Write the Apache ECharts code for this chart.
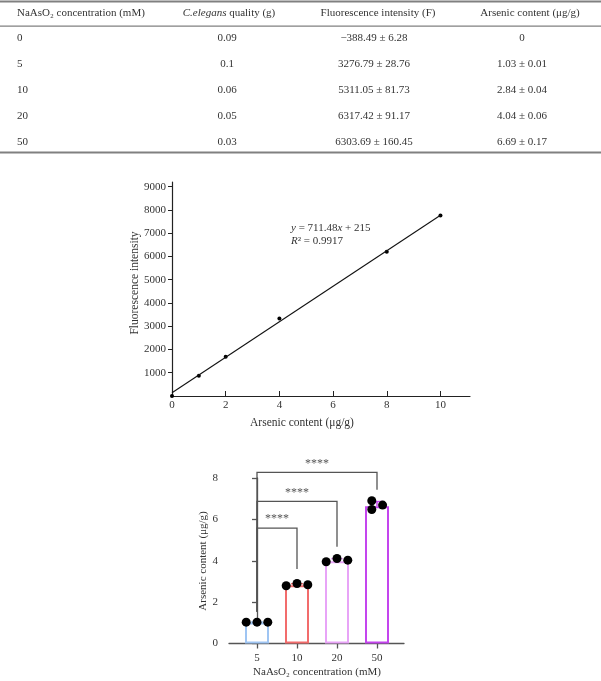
<!DOCTYPE html>
<html>
<head>
<meta charset="utf-8">
<script src="https://cdn.jsdelivr.net/npm/echarts@6/dist/echarts.min.js"></script>
<style>html,body{margin:0;padding:0;background:#fff}#c{width:601px;height:681px}</style>
</head>
<body>
<div id="c"></div>
<script>
// ---- Table data ----
const tableHeaders = ['NaAsO₂ concentration (mM)', '{i|C.elegans} quality (g)', 'Fluorescence intensity (F)', 'Arsenic content (μg/g)'];
const concentrations = ['0', '5', '10', '20', '50'];
const wormMass = ['0.09', '0.1', '0.06', '0.05', '0.03'];
const fluorescence = ['−388.49 ± 6.28', '3276.79 ± 28.76', '5311.05 ± 81.73', '6317.42 ± 91.17', '6303.69 ± 160.45'];
const arsenic = ['0', '1.03 ± 0.01', '2.84 ± 0.04', '4.04 ± 0.06', '6.69 ± 0.17'];

// ---- Standard curve data ----
const stdX = [0, 1, 2, 4, 8, 10];
const stdY = [0, 870, 1690, 3330, 6200, 7760];
const fitX = [0, 10];
const fitY = [140, 7770];
const stdXTicks = [0, 2, 4, 6, 8, 10];
const stdYTicks = [1000, 2000, 3000, 4000, 5000, 6000, 7000, 8000, 9000];
const equationText = '{i|y} = 711.48{i|x} + 215';
const r2Text = '{i|R}² = 0.9917';

// ---- Bar chart data ----
const groups = ['5', '10', '20', '50'];
const groupMeans = [1.02, 2.82, 3.98, 6.64];
const groupSD = [0.02, 0.07, 0.12, 0.22];
const replicates = [[1.03, 1.03, 1.03], [2.79, 2.90, 2.84], [3.95, 4.11, 4.03], [6.90, 6.48, 6.69]];
const dotOffsets = [[-0.27, 0, 0.27], [-0.27, 0, 0.27], [-0.27, 0, 0.27], [-0.13, -0.13, 0.14]];
const barColors = ['#9fc5f3', '#f26c6c', '#e8a4f7', '#c445ee'];
// comparisons: [groupA, groupB, bracketHeight, footA, footB]
const comparisons = [[0, 1, 5.58, 1.53, 3.60], [0, 2, 6.87, 1.53, 4.68], [0, 3, 8.27, 1.53, 7.43]];
const sigLabel = '****';

const FONT = 'Liberation Serif';
const TXT = '#333';

// ---- Table graphics ----
const g = [];
const colX = [17, 227, 374, 522];
const headX = [17, 229, 378, 530];
const rowY0 = 38, rowStep = 26;
g.push({type: 'rect', shape: {x: 0, y: 0.5, width: 601, height: 2}, style: {fill: '#808080'}});
g.push({type: 'rect', shape: {x: 0, y: 25.5, width: 601, height: 1.2}, style: {fill: '#808080'}});
g.push({type: 'rect', shape: {x: 0, y: 151.5, width: 601, height: 2}, style: {fill: '#808080'}});
tableHeaders.forEach((h, i) => {
  g.push({type: 'text', x: headX[i], y: 13, style: {text: h, fontFamily: FONT, fontSize: 11, fill: TXT,
    align: i === 0 ? 'left' : 'center', verticalAlign: 'middle',
    rich: {i: {fontStyle: 'italic', fontFamily: FONT, fontSize: 11, fill: TXT}}}});
});
const cols = [concentrations, wormMass, fluorescence, arsenic];
cols.forEach((col, c) => {
  col.forEach((v, r) => {
    g.push({type: 'text', x: colX[c], y: rowY0 + r * rowStep, style: {text: v, fontFamily: FONT, fontSize: 11, fill: TXT,
      align: c === 0 ? 'left' : 'center', verticalAlign: 'middle'}});
  });
});
// Axis titles and equation
g.push({type: 'text', x: 135, y: 283, rotation: Math.PI / 2, style: {text: 'Fluorescence intensity', fontFamily: FONT, fontSize: 11.5, fill: TXT, align: 'center', verticalAlign: 'middle'}});
g.push({type: 'text', x: 302, y: 423, style: {text: 'Arsenic content (μg/g)', fontFamily: FONT, fontSize: 11.5, fill: TXT, align: 'center', verticalAlign: 'middle'}});
g.push({type: 'text', x: 291, y: 228, style: {text: equationText, fontFamily: FONT, fontSize: 11, fill: TXT, align: 'left', verticalAlign: 'middle',
  rich: {i: {fontStyle: 'italic', fontFamily: FONT, fontSize: 11, fill: TXT}}}});
g.push({type: 'text', x: 291, y: 241.5, style: {text: r2Text, fontFamily: FONT, fontSize: 11, fill: TXT, align: 'left', verticalAlign: 'middle',
  rich: {i: {fontStyle: 'italic', fontFamily: FONT, fontSize: 11, fill: TXT}}}});
g.push({type: 'text', x: 203, y: 561, rotation: Math.PI / 2, style: {text: 'Arsenic content (μg/g)', fontFamily: FONT, fontSize: 11, fill: TXT, align: 'center', verticalAlign: 'middle'}});
g.push({type: 'text', x: 317, y: 672, style: {text: 'NaAsO₂ concentration (mM)', fontFamily: FONT, fontSize: 11, fill: TXT, align: 'center', verticalAlign: 'middle'}});

const chart = echarts.init(document.getElementById('c'), null, {renderer: 'canvas'});
const dotData = [];
replicates.forEach((reps, i) => reps.forEach((v, k) => dotData.push([i + dotOffsets[i][k], v])));

chart.setOption({
  animation: false,
  backgroundColor: '#fff',
  graphic: g,
  grid: [
    {left: 172, top: 182, width: 298, height: 214},
    {left: 229, top: 478, width: 175, height: 165.5}
  ],
  xAxis: [
    {type: 'value', gridIndex: 0, min: 0, max: 11.1,
      axisLine: {lineStyle: {color: '#222', width: 1.2}},
      axisTick: {inside: true, length: 5, lineStyle: {color: '#222'}, customValues: stdXTicks.filter(v => v > 0)},
      axisLabel: {customValues: stdXTicks, margin: 4, fontFamily: FONT, fontSize: 11, color: TXT, formatter: v => String(v)},
      splitLine: {show: false}},
    {type: 'value', gridIndex: 1, min: -0.7, max: 3.675,
      axisLine: {lineStyle: {color: '#555', width: 1.3}},
      axisTick: {length: 5, lineStyle: {color: '#555', width: 1.3}, customValues: [0, 1, 2, 3]},
      axisLabel: {customValues: [0, 1, 2, 3], margin: 9, fontFamily: FONT, fontSize: 11, color: TXT,
        formatter: v => groups[Math.round(v)]},
      splitLine: {show: false}}
  ],
  yAxis: [
    {type: 'value', gridIndex: 0, min: 0, max: 9200,
      axisLine: {show: true, lineStyle: {color: '#222', width: 1.2}},
      axisTick: {show: true, length: 4, lineStyle: {color: '#222'}, customValues: stdYTicks},
      axisLabel: {customValues: stdYTicks, margin: 6, fontFamily: FONT, fontSize: 11, color: TXT, formatter: v => String(v)},
      splitLine: {show: false}},
    {type: 'value', gridIndex: 1, min: 0, max: 8, interval: 2,
      axisLine: {show: true, lineStyle: {color: '#555', width: 1.3}},
      axisTick: {show: true, length: 5, lineStyle: {color: '#555', width: 1.3}},
      axisLabel: {margin: 11, fontFamily: FONT, fontSize: 11, color: TXT, formatter: v => String(v)},
      splitLine: {show: false}}
  ],
  series: [
    {type: 'line', xAxisIndex: 0, yAxisIndex: 0, data: fitX.map((x, i) => [x, fitY[i]]),
      symbol: 'none', lineStyle: {color: '#111', width: 1.1}},
    {type: 'scatter', xAxisIndex: 0, yAxisIndex: 0, data: stdX.map((x, i) => [x, stdY[i]]),
      symbolSize: 4, itemStyle: {color: '#000', opacity: 1}},
    {type: 'bar', xAxisIndex: 1, yAxisIndex: 1, barWidth: 24,
      data: groupMeans.map((m, i) => ({value: [i, m], itemStyle: {borderColor: barColors[i]}})),
      itemStyle: {color: '#fff', borderWidth: 2}},
    {type: 'custom', xAxisIndex: 1, yAxisIndex: 1, z: 3,
      data: groupMeans.map((m, i) => [i, m, m + groupSD[i]]),
      renderItem: (params, api) => {
        const i = api.value(0);
        const p0 = api.coord([i, api.value(1)]);
        const p1 = api.coord([i, api.value(2)]);
        const col = barColors[params.dataIndex];
        return {type: 'group', children: [
          {type: 'line', shape: {x1: p0[0], y1: p0[1], x2: p1[0], y2: p1[1]}, style: {stroke: col, lineWidth: 1.5}},
          {type: 'line', shape: {x1: p1[0] - 6, y1: p1[1], x2: p1[0] + 6, y2: p1[1]}, style: {stroke: col, lineWidth: 1.5}}
        ]};
      }},
    {type: 'scatter', xAxisIndex: 1, yAxisIndex: 1, z: 5, data: dotData,
      symbolSize: 9, itemStyle: {color: '#000', opacity: 1}},
    {type: 'custom', xAxisIndex: 1, yAxisIndex: 1, z: 4, clip: false,
      data: comparisons,
      renderItem: (params, api) => {
        const a = api.value(0), b = api.value(1), h = api.value(2), fa = api.value(3), fb = api.value(4);
        const pa = api.coord([a, fa]);
        const pah = api.coord([a, h]);
        const pbh = api.coord([b, h]);
        const pb = api.coord([b, fb]);
        return {type: 'group', children: [
          {type: 'polyline', shape: {points: [pa, pah, pbh, pb]}, style: {stroke: '#555', lineWidth: 1.3, fill: null}},
          {type: 'text', x: (pah[0] + pbh[0]) / 2, y: pah[1] - 3, style: {text: sigLabel, fontFamily: FONT, fontSize: 12, fill: '#555', align: 'center', verticalAlign: 'bottom'}}
        ]};
      }}
  ]
});
</script>
</body>
</html>
